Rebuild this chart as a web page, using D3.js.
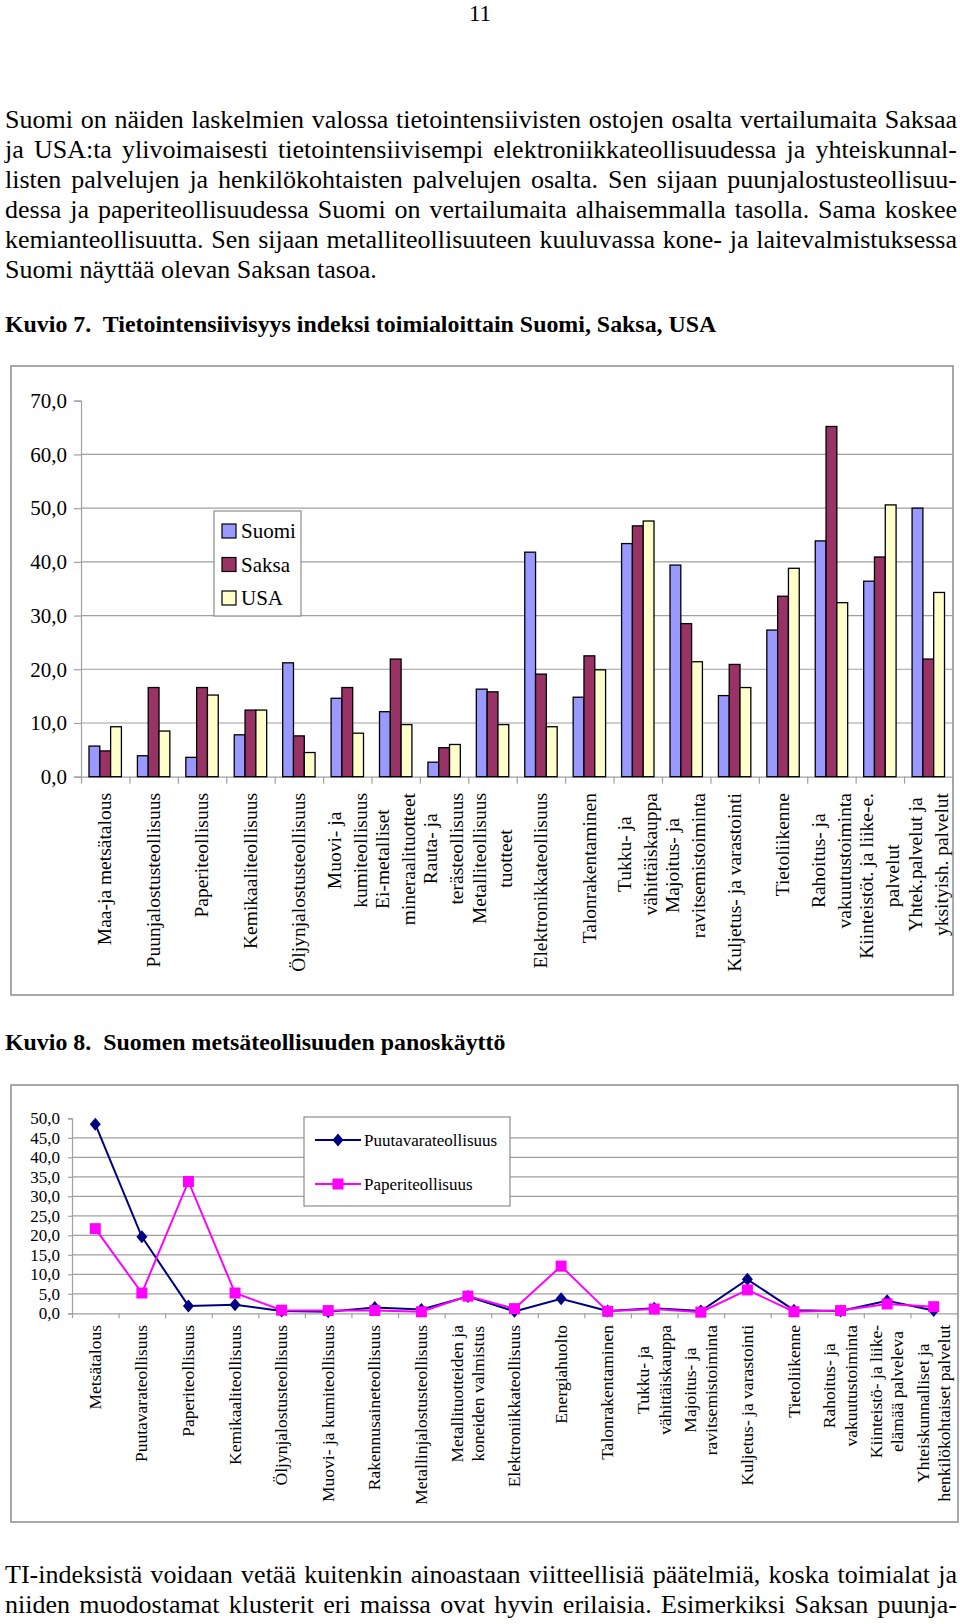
<!DOCTYPE html>
<html><head><meta charset="utf-8">
<script src="https://cdn.jsdelivr.net/npm/d3@7"></script>
<style>
body{margin:0;background:#fff}
svg{display:block}
text{font-family:"Liberation Serif","Times New Roman",serif;fill:#000}
</style>
</head><body>
<svg id="c" width="960" height="1624"></svg>
<script>
// ---------- DATA ----------
const pageNumber = "11";
const paragraphLines = [
  "Suomi on näiden laskelmien valossa tietointensiivisten ostojen osalta vertailumaita Saksaa",
  "ja USA:ta ylivoimaisesti tietointensiivisempi elektroniikkateollisuudessa ja yhteiskunnal-",
  "listen palvelujen ja henkilökohtaisten palvelujen osalta. Sen sijaan puunjalostusteollisuu-",
  "dessa ja paperiteollisuudessa Suomi on vertailumaita alhaisemmalla tasolla. Sama koskee",
  "kemianteollisuutta. Sen sijaan metalliteollisuuteen kuuluvassa kone- ja laitevalmistuksessa",
  "Suomi näyttää olevan Saksan tasoa."
];
const caption7 = "Kuvio 7.  Tietointensiivisyys indeksi toimialoittain Suomi, Saksa, USA";
const caption8 = "Kuvio 8.  Suomen metsäteollisuuden panoskäyttö";
const bottomLines = [
  "TI-indeksistä voidaan vetää kuitenkin ainoastaan viitteellisiä päätelmiä, koska toimialat ja",
  "niiden muodostamat klusterit eri maissa ovat hyvin erilaisia. Esimerkiksi Saksan puunja-"
];

const barCategories = [
  ["Maa-ja metsätalous"],
  ["Puunjalostusteollisuus"],
  ["Paperiteollisuus"],
  ["Kemikaaliteollisuus"],
  ["Öljynjalostusteollisuus"],
  ["Muovi- ja", "kumiteollisuus"],
  ["Ei-metalliset", "mineraalituotteet"],
  ["Rauta- ja", "terästeollisuus"],
  ["Metalliteollisuus", "tuotteet"],
  ["Elektronikkateollisuus"],
  ["Talonrakentaminen"],
  ["Tukku- ja", "vähittäiskauppa"],
  ["Majoitus- ja", "ravitsemistoiminta"],
  ["Kuljetus- ja varastointi"],
  ["Tietoliikenne"],
  ["Rahoitus- ja", "vakuutustoiminta"],
  ["Kiinteistöt. ja liike-e.", "palvelut"],
  ["Yhtek.palvelut ja", "yksityish. palvelut"]
];
const barSeries = ["Suomi", "Saksa", "USA"];
const suomiValues = [5.7, 3.9, 3.6, 7.8, 21.2, 14.6, 12.1, 2.7, 16.3, 41.8, 14.8, 43.4, 39.4, 15.1, 27.3, 43.9, 36.4, 50.0];
const saksaValues = [4.8, 16.6, 16.6, 12.4, 7.6, 16.6, 21.9, 5.4, 15.8, 19.1, 22.5, 46.7, 28.5, 20.9, 33.6, 65.2, 40.9, 21.9];
const usaValues   = [9.3, 8.5, 15.2, 12.4, 4.5, 8.1, 9.7, 6.0, 9.7, 9.3, 19.9, 47.6, 21.4, 16.6, 38.8, 32.4, 50.6, 34.3];
const barTicks = [0, 10, 20, 30, 40, 50, 60, 70];

const lineCategories = [
  ["Metsätalous"],
  ["Puutavarateollisuus"],
  ["Paperiteollisuus"],
  ["Kemikaaliteollisuus"],
  ["Öljynjalostusteollisuus"],
  ["Muovi- ja kumiteollisuus"],
  ["Rakennusaineteollisuus"],
  ["Metallinjalostusteollisuus"],
  ["Metallituotteiden ja", "koneiden valmistus"],
  ["Elektroniikkateollisuus"],
  ["Energiahuolto"],
  ["Talonrakentaminen"],
  ["Tukku- ja", "vähittäiskauppa"],
  ["Majoitus- ja", "ravitsemistoiminta"],
  ["Kuljetus- ja varastointi"],
  ["Tietoliikenne"],
  ["Rahoitus- ja", "vakuutustoiminta"],
  ["Kiinteistö- ja liike-", "elämää palveleva"],
  ["Yhteiskunnalliset ja", "henkilökohtaiset palvelut"]
];
const lineSeries = ["Puutavarateollisuus", "Paperiteollisuus"];
const puutavaraValues = [48.5, 19.6, 1.9, 2.2, 0.6, 0.4, 1.5, 1.0, 4.3, 0.5, 3.7, 0.6, 1.3, 0.6, 8.7, 0.8, 0.6, 3.2, 0.7];
const paperiValues    = [21.7, 5.2, 33.8, 5.2, 0.8, 0.7, 0.7, 0.4, 4.4, 1.2, 12.1, 0.5, 1.1, 0.3, 6.0, 0.4, 0.7, 2.4, 1.7];
const lineTicks = [0, 5, 10, 15, 20, 25, 30, 35, 40, 45, 50];

// ---------- STYLE ----------
const barColors = {Suomi: "#9999FF", Saksa: "#993366", USA: "#FFFFCC"};
const lineColors = {Puutavarateollisuus: "#000080", Paperiteollisuus: "#FF00FF"};
const gridColor = "#a0a0a0";
const frameColor = "#8c8c8c";
const fmt = d => d3.format(".1f")(d).replace(".", ",");

const svg = d3.select("#c");

// ---------- TEXT BLOCKS ----------
function textLine(str, x0, x1, y, fs, weight, justify) {
  const g = svg.append("g");
  const words = str.split(" ");
  if (!justify) {
    g.append("text").attr("x", x0).attr("y", y)
      .style("font-size", fs + "px").style("font-weight", weight)
      .style("white-space", "pre").text(str);
    return;
  }
  const probe = g.append("text").style("font-size", fs + "px").style("font-weight", weight);
  const widths = words.map(w => { probe.text(w); return probe.node().getComputedTextLength(); });
  probe.remove();
  const gap = (x1 - x0 - d3.sum(widths)) / (words.length - 1);
  let x = x0;
  words.forEach((w, i) => {
    g.append("text").attr("x", x).attr("y", y)
      .style("font-size", fs + "px").style("font-weight", weight).text(w);
    x += widths[i] + gap;
  });
}

svg.append("text").attr("x", 480).attr("y", 21).attr("text-anchor", "middle")
  .style("font-size", "23px").text(pageNumber);

paragraphLines.forEach((l, i) => {
  textLine(l, 5, 957, 128 + i * 30, 26, "normal", i < paragraphLines.length - 1);
});
textLine(caption7, 5, 957, 332, 23.9, "bold", false);
textLine(caption8, 5, 957, 1050, 23.9, "bold", false);
bottomLines.forEach((l, i) => textLine(l, 5, 957, 1583 + i * 30, 26, "normal", true));

// ---------- BAR CHART ----------
svg.append("rect").attr("x", 11).attr("y", 366).attr("width", 942).attr("height", 629)
  .attr("fill", "#fff").attr("stroke", frameColor).attr("stroke-width", 1.5);

const bL = 81, bR = 952.5, bTop = 400.7, bBot = 776.7;
const bx0 = d3.scaleBand().domain(d3.range(barCategories.length)).range([bL, bR]);
const bx1 = d3.scaleBand().domain(barSeries).range([8, bx0.bandwidth() - 8]);
const by = d3.scaleLinear().domain([0, 70]).range([bBot, bTop]);
const bEdge = d3.scaleLinear().domain([0, barCategories.length]).range([bL, bR]);

svg.append("g").selectAll("line").data(barTicks.filter(t => t > 0 && t < 70)).join("line")
  .attr("x1", bL).attr("x2", bR).attr("y1", d => by(d)).attr("y2", d => by(d))
  .attr("stroke", gridColor).attr("stroke-width", 1.2);

const byAxis = svg.append("g").attr("transform", `translate(${bL},0)`)
  .call(d3.axisLeft(by).tickValues(barTicks).tickFormat(fmt).tickSize(7).tickPadding(7));
byAxis.select(".domain").attr("stroke", gridColor).attr("stroke-width", 1.2);
byAxis.selectAll(".tick line").attr("stroke", gridColor).attr("stroke-width", 1.2);
byAxis.selectAll("text").style("font-size", "21px").style("font-family", '"Liberation Serif",serif');

const bxAxis = svg.append("g").attr("transform", `translate(0,${bBot})`)
  .call(d3.axisBottom(bEdge).tickValues(d3.range(barCategories.length + 1)).tickFormat("").tickSize(7).tickSizeOuter(0));
bxAxis.select(".domain").attr("stroke", gridColor).attr("stroke-width", 1.2);
bxAxis.selectAll(".tick line").attr("stroke", gridColor).attr("stroke-width", 1.2);

const barData = barCategories.map((c, i) => ({
  i, vals: [{s: "Suomi", v: suomiValues[i]}, {s: "Saksa", v: saksaValues[i]}, {s: "USA", v: usaValues[i]}]
}));

// legend box (drawn over gridlines)
const bLeg = svg.append("g");
bLeg.append("rect").attr("x", 214).attr("y", 511).attr("width", 87).attr("height", 105)
  .attr("fill", "#fff").attr("stroke", frameColor).attr("stroke-width", 1.2);
barSeries.forEach((s, i) => {
  const cy = 531 + i * 33.5;
  bLeg.append("rect").attr("x", 222).attr("y", cy - 7).attr("width", 14).attr("height", 14)
    .attr("fill", barColors[s]).attr("stroke", "#000").attr("stroke-width", 1.2);
  bLeg.append("text").attr("x", 241).attr("y", cy).attr("dy", "0.35em")
    .style("font-size", "21px").text(s);
});

svg.append("g").selectAll("g").data(barData).join("g")
  .attr("transform", d => `translate(${bx0(d.i)},0)`)
  .selectAll("rect").data(d => d.vals).join("rect")
  .attr("x", d => bx1(d.s)).attr("width", bx1.bandwidth())
  .attr("y", d => by(d.v)).attr("height", d => by(0) - by(d.v))
  .attr("fill", d => barColors[d.s]).attr("stroke", "#000").attr("stroke-width", 1.3);

function categoryLabels(cats, scaleCenter, top, fs, spacing) {
  const g = svg.append("g");
  cats.forEach((lines, i) => {
    const cx = scaleCenter(i);
    const lg = g.append("g").attr("transform", `translate(${cx},${top}) rotate(-90)`);
    const texts = lines.map((l, j) => lg.append("text")
      .attr("y", (j - (lines.length - 1) / 2) * spacing)
      .attr("dy", "0.32em").attr("text-anchor", "middle")
      .style("font-size", fs + "px").text(l));
    const W = d3.max(texts, t => t.node().getComputedTextLength());
    texts.forEach(t => t.attr("x", -W / 2));
  });
}
categoryLabels(barCategories, i => bx0(i) + bx0.bandwidth() / 2, 793, 19.5, 26);

// ---------- LINE CHART ----------
svg.append("rect").attr("x", 11).attr("y", 1085).attr("width", 947).attr("height", 437)
  .attr("fill", "#fff").attr("stroke", frameColor).attr("stroke-width", 1.5);

const lL = 72, lR = 957, lTop = 1118.3, lBot = 1313.3;
const lx = d3.scalePoint().domain(d3.range(lineCategories.length)).range([lL, lR]).padding(0.5);
const lEdge = d3.scaleLinear().domain([0, lineCategories.length]).range([lL, lR]);
const ly = d3.scaleLinear().domain([0, 50]).range([lBot, lTop]);

svg.append("g").selectAll("line").data(lineTicks.filter(t => t > 0 && t < 50)).join("line")
  .attr("x1", lL).attr("x2", lR).attr("y1", d => ly(d)).attr("y2", d => ly(d))
  .attr("stroke", gridColor).attr("stroke-width", 1.2);

const lyAxis = svg.append("g").attr("transform", `translate(${lL},0)`)
  .call(d3.axisLeft(ly).tickValues(lineTicks).tickFormat(fmt).tickSize(4).tickPadding(8));
lyAxis.select(".domain").attr("stroke", gridColor).attr("stroke-width", 1.2);
lyAxis.selectAll(".tick line").attr("stroke", gridColor).attr("stroke-width", 1.2);
lyAxis.selectAll("text").style("font-size", "17px").style("font-family", '"Liberation Serif",serif');

const lxAxis = svg.append("g").attr("transform", `translate(0,${lBot})`)
  .call(d3.axisBottom(lEdge).tickValues(d3.range(lineCategories.length + 1)).tickFormat("").tickSize(5).tickSizeOuter(0));
lxAxis.select(".domain").attr("stroke", gridColor).attr("stroke-width", 1.2);
lxAxis.selectAll(".tick line").attr("stroke", gridColor).attr("stroke-width", 1.2);

// legend
const lLeg = svg.append("g");
lLeg.append("rect").attr("x", 304).attr("y", 1117).attr("width", 206).attr("height", 89)
  .attr("fill", "#fff").attr("stroke", frameColor).attr("stroke-width", 1.2);

const diamond = "M0,-6.5L5.5,0L0,6.5L-5.5,0Z";
const square = "M-5.5,-5.5H5.5V5.5H-5.5Z";
const markers = {Puutavarateollisuus: diamond, Paperiteollisuus: square};

lineSeries.forEach((s, i) => {
  const cy = 1140 + i * 44;
  lLeg.append("line").attr("x1", 315).attr("x2", 361).attr("y1", cy).attr("y2", cy)
    .attr("stroke", lineColors[s]).attr("stroke-width", 2);
  lLeg.append("path").attr("d", markers[s]).attr("transform", `translate(338,${cy})`)
    .attr("fill", lineColors[s]);
  lLeg.append("text").attr("x", 364).attr("y", cy).attr("dy", "0.35em")
    .style("font-size", "17px").text(s);
});

const seriesData = [
  {s: "Puutavarateollisuus", vals: puutavaraValues},
  {s: "Paperiteollisuus", vals: paperiValues}
];
const line = d3.line().x((d, i) => lx(i)).y(d => ly(d));
seriesData.forEach(sd => {
  svg.append("path").datum(sd.vals).attr("d", line)
    .attr("fill", "none").attr("stroke", lineColors[sd.s]).attr("stroke-width", 2);
  svg.append("g").selectAll("path").data(sd.vals).join("path")
    .attr("d", markers[sd.s])
    .attr("transform", (d, i) => `translate(${lx(i)},${ly(d)})`)
    .attr("fill", lineColors[sd.s]);
});

categoryLabels(lineCategories, i => lx(i), 1325, 17.5, 21.5);
</script>
</body></html>
